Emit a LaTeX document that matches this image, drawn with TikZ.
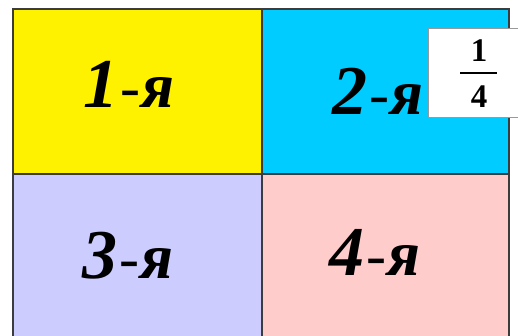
\documentclass[tikz,border=0pt]{standalone}
\usepackage{fontspec}
\setmainfont{Liberation Serif}
\definecolor{cyanA}{RGB}{0,204,255}
\definecolor{lavA}{RGB}{204,204,255}
\definecolor{pinkA}{RGB}{255,204,204}
\definecolor{lineA}{RGB}{60,60,60}
\tikzset{
  lab/.style={anchor=base, inner sep=0pt, font=\fontsize{70}{70}\selectfont},
  frac digit/.style={inner sep=0pt, font=\fontsize{33}{33}\selectfont\bfseries},
  grid line/.style={draw=lineA, line width=1.3pt},
}
\newcommand{\lbl}[1]{{\bfseries\itshape #1}\kern2pt{\fontsize{60}{60}\selectfont\itshape -}\kern1pt{\fontsize{64}{64}\selectfont\bfseries\itshape я}}
\begin{document}
\begin{tikzpicture}[x=1pt,y=1pt]
\useasboundingbox (0,0) rectangle (518,335);
\fill[white] (0,0) rectangle (518,335);
\clip (0,0) rectangle (518,335);
% cells
\fill[yellow] (13,161) rectangle (262,326);
\fill[cyanA] (262,161) rectangle (509,326);
\fill[lavA] (13,-20) rectangle (262,161);
\fill[pinkA] (262,-20) rectangle (509,161);
\draw[grid line] (13,-20) rectangle (509,326);
\draw[grid line] (262,-20) -- (262,326);
\draw[grid line] (13,161) -- (509,161);
% labels
\node[lab] (l1) at (129,227) {\lbl{1}};
\node[lab] (l2) at (378,220) {\lbl{2}};
\node[lab] (l3) at (128,57) {\lbl{3}};
\node[lab] (l4) at (375,60) {\lbl{4}};
% fraction box
\draw[fill=white, draw=gray!80, line width=0.8pt] (428,218) rectangle (530,307);
\node[frac digit, anchor=base] (num) at (479,273) {1};
\node[frac digit, anchor=base] (den) at (479,227) {4};
\coordinate (barL) at (460,262);
\coordinate (barR) at (497,262);
\draw[line width=2pt] (barL) -- (barR);
\end{tikzpicture}
\end{document}
